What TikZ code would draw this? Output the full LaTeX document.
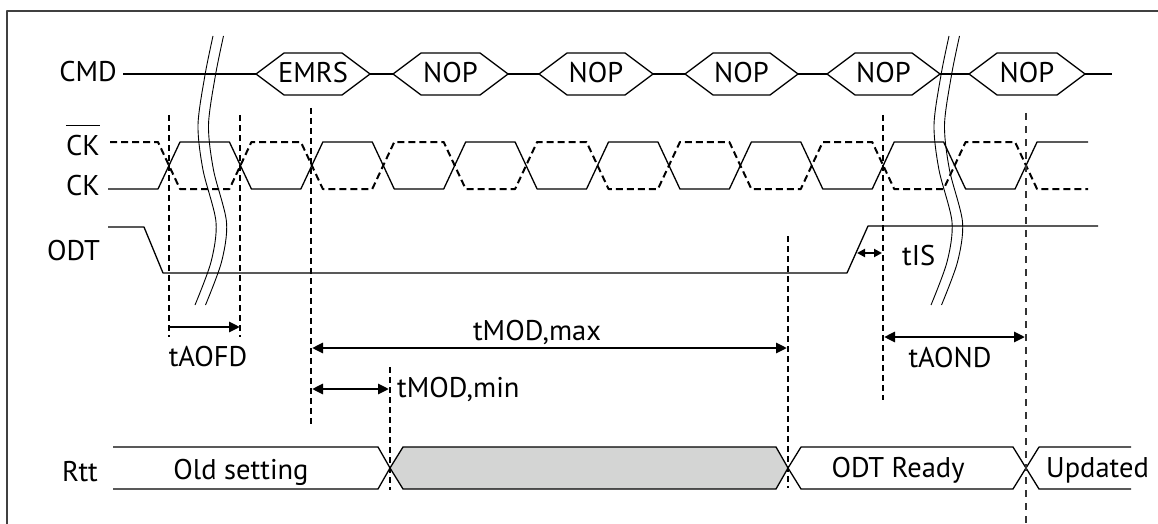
\documentclass[tikz,border=0pt]{standalone}
\usepackage{fontspec}
\setmainfont{PT Sans}
\usetikzlibrary{arrows.meta}

\definecolor{rttgray}{RGB}{212,213,212}

\tikzset{
  wave/.style={line width=1.3pt},
  clkbar/.style={line width=2pt,dash pattern=on 7pt off 4pt},
  edgeline/.style={line width=2pt,dash pattern=on 6pt off 4pt},
  edgethin/.style={line width=1.2pt,dash pattern=on 7pt off 6pt,black!80},
  meas/.style={line width=2.8pt},
  brk/.style={line width=0.9pt},
  frame/.style={line width=1.4pt,black!75},
}

\begin{document}
\begin{tikzpicture}[line join=round,x=1pt,y=-1pt,>={Triangle[length=11pt,width=10pt]},
  every node/.style={inner sep=0pt},font=\fontsize{28.5}{32}\selectfont]
\useasboundingbox (0,0) rectangle (1158,524);
\draw[frame] (1158,11) -- (7,11) -- (7,524);

% signal names
\node[anchor=base east] (cmdlbl) at (117,82) {CMD};
\node[anchor=base east] (ckblbl) at (100,155) {CK};
\draw[line width=1.4pt] ([yshift=9pt]ckblbl.north west) -- ([yshift=9pt]ckblbl.north east);
\node[anchor=base east] (cklbl) at (100,195) {CK};
\node[anchor=base east] (odtlbl) at (100,260) {ODT};
\node[anchor=base east] (rttlbl) at (98,481) {Rtt};

% command bus
\foreach \a/\b in {123/256,370/393,508/539,653/685,798/827,940/969,1085/1112}
  \draw[wave] (\a,74) -- (\b,74);
\foreach \l/\r/\t [count=\n] in {256/370/EMRS,393/508/NOP,539/653/NOP,685/798/NOP,827/940/NOP,969/1085/NOP}{
  \draw[wave] (\l,74) -- (\l+28,53) -- (\r-28,53) -- (\r,74) -- (\r-28,95) -- (\l+28,95) -- cycle;
  \node[anchor=base] (cmd\n) at ({(\l+\r)/2},83) {\t};
}

% clock
\def\hp{71.42}
\draw[wave] (108,189) \foreach \i in {0,...,5}{
  -- ({169+2*\i*\hp-11},189) -- ({169+2*\i*\hp+11},142)
  -- ({169+(2*\i+1)*\hp-11},142) -- ({169+(2*\i+1)*\hp+11},189)}
  -- ({169+12*\hp-11},189) -- ({169+12*\hp+11},142) -- (1088,142);
\draw[clkbar] (110,142) \foreach \i in {0,...,5}{
  -- ({169+2*\i*\hp-11},142) -- ({169+2*\i*\hp+11},189)
  -- ({169+(2*\i+1)*\hp-11},189) -- ({169+(2*\i+1)*\hp+11},142)}
  -- ({169+12*\hp-11},142) -- ({169+12*\hp+11},189) -- (1088,189);

% ODT
\draw[wave] (108,227) -- (144,227) -- (163,273) -- (847,273) -- (868,226) -- (1098,226);

% Rtt
\draw[wave] (113,447) -- (378,447) -- (390,468) -- (378,489) -- (113,489);
\draw[wave,fill=rttgray] (390,468) -- (403,447) -- (776,447) -- (788,468) -- (776,489) -- (403,489) -- cycle;
\draw[wave] (788,468) -- (801,447) -- (1013,447) -- (1026,468) -- (1013,489) -- (801,489) -- cycle;
\draw[wave] (1131,447) -- (1039,447) -- (1026,468) -- (1039,489) -- (1131,489);
\node[anchor=base] (oldset) at (241,479) {Old setting};
\node[anchor=base] (odtrdy) at (898,477) {ODT Ready};
\node[anchor=base west] (upd) at (1046,477) {Updated};

% break marks
\foreach \bx in {0,10.5,736,746.5}
  \draw[brk,xshift=\bx] plot[smooth] coordinates {(213,36) (205,75) (198,125) (203,170) (216,222) (211,262) (195,305)};

% clock edges
\draw[edgeline] (169,115) -- (169,337);
\draw[edgeline] (240,115) -- (240,337);
\draw[edgeline] (311,108) -- (311,425);
\draw[edgeline] (390,367) -- (390,490);
\draw[edgeline] (788,236) -- (788,488);
\draw[edgeline] (883,115) -- (883,400);
\draw[edgethin] (1026,113) -- (1026,523);

% timings
\draw[meas,->] (169,327) -- (240,327);
\node[anchor=base] (taofd) at (208,366) {tAOFD};
\draw[meas,<->] (312,348) -- (787,348);
\node[anchor=base] (tmodmax) at (537,340) {tMOD,max};
\draw[meas,<->] (312,389) -- (389,389);
\node[anchor=base west] (tmodmin) at (397,397) {tMOD,min};
\draw[line width=2.2pt,{Triangle[length=8pt,width=8pt]}-{Triangle[length=8pt,width=8pt]}] (857,253) -- (882,253);
\node[anchor=base west] (tis) at (902,265) {tIS};
\draw[meas,<->] (884,337) -- (1025,337);
\node[anchor=base] (taond) at (950,367) {tAOND};
\end{tikzpicture}
\end{document}
